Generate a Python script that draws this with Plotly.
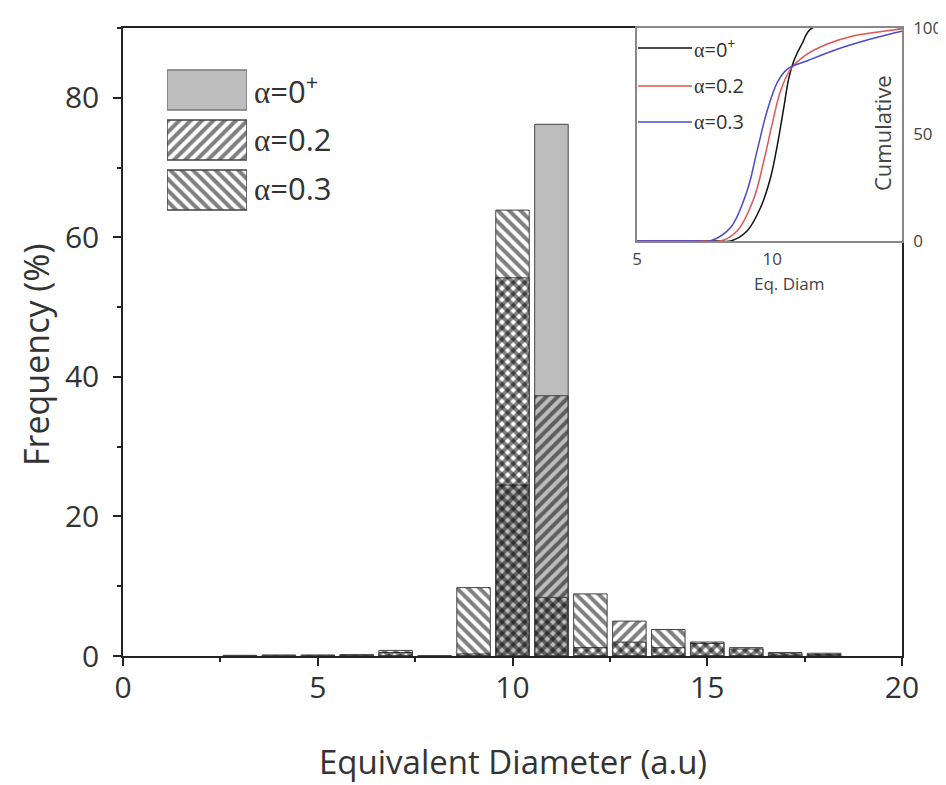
import plotly.graph_objects as go

# ---------------- data ----------------
diam = [3, 4, 5, 6, 7, 8, 9, 10, 11, 12, 13, 14, 15, 16, 17, 18]
freq_a0 = [0, 0, 0, 0, 0, 0, 0, 24.5, 76.2, 0, 0, 0, 0, 0, 0, 0]
freq_a02 = [0, 0, 0, 0.1, 0.5, 0, 0.3, 54.2, 37.3, 1.2, 5.0, 1.2, 1.8, 1.2, 0.3, 0.2]
freq_a03 = [0.1, 0.15, 0.15, 0.2, 0.8, 0, 9.8, 63.9, 8.4, 8.9, 2.0, 3.8, 2.0, 1.0, 0.5, 0.4]

cum_a0_x = [5.0, 8.0, 8.46, 9.07, 9.57, 9.94, 10.19, 10.43, 10.62, 10.8, 11.1, 11.48, 14.8]
cum_a0_y = [0, 0, 0, 4.7, 15.7, 29.8, 45.0, 62.7, 76.8, 84.6, 92.5, 100, 100]
cum_a02_x = [5.0, 7.5, 8.09, 8.7, 9.32, 9.69, 10.0, 10.31, 10.68, 11.3, 12.04, 13.02, 14.75, 14.8]
cum_a02_y = [0, 0, 0, 4.7, 20.0, 37.6, 55.0, 70.5, 80.7, 87.8, 92.5, 96.4, 99.5, 99.6]
cum_a03_x = [5.0, 7.2, 7.7, 8.46, 9.07, 9.44, 9.81, 10.19, 10.56, 11.3, 12.4, 13.64, 14.75, 14.8]
cum_a03_y = [0, 0, 0, 6.3, 23.5, 42.3, 61.0, 74.5, 80.7, 84.6, 90.0, 94.8, 98.4, 98.5]

x_ticks = [0, 5, 10, 15, 20]
y_ticks = [0, 20, 40, 60, 80]
inset_x_ticks = [5, 10]
inset_y_ticks = [0, 50, 100]

labels = ["α=0⁺", "α=0.2", "α=0.3"]
legend_rows = [0, 1, 2]
legend_len = [1, 1, 1]

FONT = "Open Sans"
ALPHA = '<span style="font-family:Liberation Serif">α</span>'
label_html = [ALPHA + "=0<sup>+</sup>", ALPHA + "=0.2", ALPHA + "=0.3"]

fig = go.Figure()

edge = dict(color="#444444", width=1)
pat02 = dict(shape="/", fgcolor="#000000", bgcolor="rgba(0,0,0,0)", size=8, solidity=0.5)
pat03 = dict(shape="\\", fgcolor="#000000", bgcolor="rgba(0,0,0,0)", size=8, solidity=0.5)

fig.add_trace(go.Bar(x=diam, y=freq_a0, width=0.86, marker=dict(color="#bdbdbd", line=edge),
                     name=labels[0], showlegend=False))
fig.add_trace(go.Bar(x=diam, y=freq_a02, width=0.86,
                     marker=dict(color="rgba(0,0,0,0)", line=edge, pattern=pat02),
                     name=labels[1], showlegend=False))
fig.add_trace(go.Bar(x=diam, y=freq_a03, width=0.86,
                     marker=dict(color="rgba(0,0,0,0)", line=edge, pattern=pat03),
                     name=labels[2], showlegend=False))

# legend swatches drawn on an auxiliary axis
fig.add_trace(go.Bar(x=[legend_len[0]], y=[legend_rows[0]], orientation="h", width=0.8,
                     marker=dict(color="#bdbdbd", line=dict(color="#777777", width=1.5)),
                     xaxis="x3", yaxis="y3", showlegend=False))
fig.add_trace(go.Bar(x=[legend_len[1]], y=[legend_rows[1]], orientation="h", width=0.8,
                     marker=dict(color="rgba(0,0,0,0)", line=dict(color="#444444", width=1.5), pattern=pat02),
                     xaxis="x3", yaxis="y3", showlegend=False))
fig.add_trace(go.Bar(x=[legend_len[2]], y=[legend_rows[2]], orientation="h", width=0.8,
                     marker=dict(color="rgba(0,0,0,0)", line=dict(color="#444444", width=1.5), pattern=pat03),
                     xaxis="x3", yaxis="y3", showlegend=False))

# inset cumulative curves
fig.add_trace(go.Scatter(x=cum_a0_x, y=cum_a0_y, mode="lines", line=dict(color="#111111", width=1.5, shape="spline"),
                         xaxis="x2", yaxis="y2", showlegend=False))
fig.add_trace(go.Scatter(x=cum_a02_x, y=cum_a02_y, mode="lines", line=dict(color="#e05555", width=1.5, shape="spline"),
                         xaxis="x2", yaxis="y2", showlegend=False))
fig.add_trace(go.Scatter(x=cum_a03_x, y=cum_a03_y, mode="lines", line=dict(color="#4a4ad0", width=1.5, shape="spline"),
                         xaxis="x2", yaxis="y2", showlegend=False))

# page offset (body margin) compensation
OFF = 8
W, H = 946, 785
L, T = 123 - OFF, 28 - OFF
pw, ph = 779, 628
R, B = W - L - pw, H - T - ph


def px(p):
    return (p - OFF - L) / pw


def py(p):
    return (T + ph - (p - OFF)) / ph


axis_common = dict(showline=True, linecolor="#222222", linewidth=1.5, mirror=True, automargin=False,
                   ticks="outside", tickcolor="#222222", tickwidth=1.5, ticklen=8,
                   showgrid=False, zeroline=False, tickfont=dict(family=FONT, size=30, color="#333333"))
inset_common = dict(showline=True, linecolor="#888888", linewidth=1.5, mirror=True, ticks="", automargin=False,
                    showgrid=False, zeroline=False)

fig.update_layout(
    width=W, height=H, margin=dict(l=L, r=R, t=T, b=B),
    paper_bgcolor="white", plot_bgcolor="white", barmode="overlay",
    font=dict(family=FONT, color="#333333"),
    xaxis=dict(range=[0, 20], tickvals=x_ticks, ticklabelstandoff=-4,
               minor=dict(dtick=2.5, ticks="outside", ticklen=4, tickcolor="#222222", tickwidth=1.5),
               **axis_common),
    yaxis=dict(range=[0, 90], tickvals=y_ticks, ticklabelstandoff=8,
               minor=dict(dtick=10, ticks="outside", ticklen=4, tickcolor="#222222", tickwidth=1.5),
               **axis_common),
    xaxis2=dict(domain=[px(637), 1.0], anchor="y2", range=[5, 14.8], tickvals=inset_x_ticks,
                tickfont=dict(family=FONT, size=17, color="#444444"), ticklabelstandoff=2, **inset_common),
    yaxis2=dict(domain=[py(241), 1.0], anchor="x2", side="right", range=[0, 100], tickvals=inset_y_ticks,
                tickfont=dict(family=FONT, size=17, color="#444444"), ticklabelstandoff=6, **inset_common),
    xaxis3=dict(domain=[px(167), px(247)], anchor="y3", range=[0, 1], visible=False, fixedrange=True),
    yaxis3=dict(domain=[py(215), py(65)], anchor="x3", range=[2.5, -0.5], visible=False, fixedrange=True),
)

ann = []
# axis titles
ann.append(dict(x=0.5, y=py(761), xref="paper", yref="paper", xanchor="center", yanchor="middle",
                text="Equivalent Diameter (a.u)", showarrow=False, font=dict(family=FONT, size=33, color="#333333")))
ann.append(dict(x=px(36), y=py(355), xref="paper", yref="paper", xanchor="center", yanchor="middle",
                text="Frequency (%)", textangle=-90, showarrow=False, font=dict(family=FONT, size=34, color="#333333")))
ann.append(dict(x=px(789), y=py(283), xref="paper", yref="paper", xanchor="center", yanchor="middle",
                text="Eq. Diam", showarrow=False, font=dict(family=FONT, size=17, color="#444444")))
ann.append(dict(x=px(882), y=py(133), xref="paper", yref="paper", xanchor="center", yanchor="middle",
                text="Cumulative", textangle=-90, showarrow=False, font=dict(family=FONT, size=22, color="#444444")))

# main legend labels
for i, yy in enumerate([90, 139, 188]):
    ann.append(dict(x=px(252), y=py(yy), xref="paper", yref="paper", xanchor="left", yanchor="middle",
                    text=label_html[i], showarrow=False, font=dict(family=FONT, size=31, color="#333333")))

# inset legend
inset_cols = ["#111111", "#e05555", "#4a4ad0"]
for i, yy in enumerate([48, 86, 122]):
    fig.add_shape(type="line", xref="paper", yref="paper", x0=px(638), x1=px(692), y0=py(yy), y1=py(yy),
                  line=dict(color=inset_cols[i], width=1.5))
    ann.append(dict(x=px(692), y=py(yy), xref="paper", yref="paper", xanchor="left", yanchor="middle",
                    text=label_html[i], showarrow=False, font=dict(family=FONT, size=20, color="#333333")))

fig.update_layout(annotations=ann)
fig.write_html("out.html")
